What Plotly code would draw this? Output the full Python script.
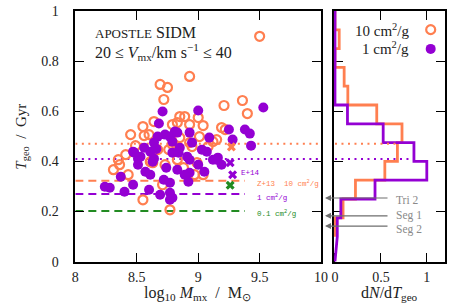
import numpy as np
import plotly.graph_objects as go

# ---------------- data ----------------
# 10 cm^2/g (open orange circles)
logM_10 = [9.50, 8.93, 8.69, 8.75, 8.72, 9.21, 9.36, 9.40, 8.55, 8.64, 8.45, 8.56,
           8.85, 8.89, 9.00, 9.04, 8.93, 8.79, 8.83, 9.19, 9.22, 9.15, 8.79, 8.93,
           9.01, 8.60, 8.84, 8.36, 8.35, 8.55, 8.77, 8.61, 8.95, 8.97, 9.04, 8.63,
           8.76, 8.85, 8.41, 8.49, 8.67, 8.73, 8.88, 8.99, 9.08, 9.12, 8.71, 8.43,
           8.31, 8.83]
T_10 = [0.899, 0.739, 0.707, 0.695, 0.647, 0.623, 0.643, 0.591, 0.539, 0.559, 0.507, 0.503,
        0.579, 0.579, 0.575, 0.543, 0.547, 0.547, 0.555, 0.535, 0.527, 0.487, 0.467, 0.475,
        0.499, 0.507, 0.455, 0.387, 0.407, 0.247, 0.207, 0.399, 0.459, 0.347, 0.347, 0.395,
        0.447, 0.495, 0.427, 0.463, 0.447, 0.387, 0.375, 0.395, 0.459, 0.479, 0.307, 0.347,
        0.367, 0.407]

# 1 cm^2/g (filled purple circles)
logM_1 = [9.53, 9.00, 8.71, 8.68, 8.93, 9.09, 9.25, 9.38, 9.42, 9.43, 9.28, 8.81,
          8.73, 8.67, 9.03, 9.07, 8.79, 8.91, 8.61, 9.16, 8.93, 8.92, 8.77, 8.79,
          8.69, 8.60, 8.63, 8.84, 9.05, 9.12, 8.93, 8.24, 8.28, 8.37, 8.40, 8.47,
          8.48, 8.53, 8.51, 8.57, 8.61, 8.77, 8.77, 8.72, 8.83, 8.79, 8.64, 8.77,
          8.83, 8.85, 8.47, 8.56, 8.64, 8.51, 8.95, 9.19, 9.15, 9.00, 8.74, 8.66,
          8.89]
T_1 = [0.615, 0.603, 0.599, 0.551, 0.515, 0.495, 0.527, 0.527, 0.511, 0.463, 0.487, 0.519,
       0.507, 0.499, 0.447, 0.439, 0.435, 0.419, 0.439, 0.415, 0.355, 0.319, 0.275, 0.255,
       0.267, 0.287, 0.399, 0.435, 0.359, 0.407, 0.407, 0.299, 0.295, 0.339, 0.279, 0.307,
       0.435, 0.419, 0.387, 0.359, 0.347, 0.247, 0.315, 0.327, 0.367, 0.479, 0.475, 0.499,
       0.515, 0.455, 0.439, 0.455, 0.411, 0.411, 0.475, 0.387, 0.407, 0.387, 0.375, 0.45,
       0.347]

# reference crosses (literature points)
cross_logM = [9.27, 9.26, 9.28, 9.26]
cross_T = [0.458, 0.395, 0.347, 0.305]
cross_col = ["#ff7f50", "#9400d3", "#9400d3", "#228b22"]

# median lines (dotted) and literature lines (dashed)
mean_T_10 = 0.47
mean_T_1 = 0.41
lit_T = [0.323, 0.27, 0.202]
lit_labels = ["Z+13  10 cm<sup>2</sup>/g", "1 cm<sup>2</sup>/g", "0.1 cm<sup>2</sup>/g"]
lit_col = ["#ff7f50", "#9400d3", "#228b22"]
lit_end = 9.38

# histogram (dN/dT_geo)
bin_edges = [0.1, 0.175, 0.25, 0.325, 0.4, 0.475, 0.55, 0.625, 0.7, 0.775, 0.85, 0.925, 1.0]
hist_10 = [0.0, 0.088, 0.223, 0.543, 0.68, 0.73, 0.455, 0.14, 0.10, 0.0, 0.046, 0.0]
hist_1 = [0.025, 0.064, 0.436, 1.0, 0.86, 0.525, 0.136, 0.0, 0.0, 0.0, 0.0, 0.0]

# observed dwarfs (arrows)
obs_T = [0.254, 0.183, 0.142]
obs_names = ["Tri 2", "Seg 1", "Seg 2"]

ORANGE = "#ff7f50"
PURPLE = "#9400d3"
GREEN = "#228b22"
GRAY = "#6e6e6e"
FONT = "Liberation Serif"
MONO = "Liberation Mono"
NB = "\u00a0"

W, H = 463, 305
fig = go.Figure()


def step(values, edges):
    xs, ys = [], []
    for i, v in enumerate(values):
        xs += [v, v]
        ys += [edges[i], edges[i + 1]]
    return xs, ys


# ---- main panel lines ----
fig.add_trace(go.Scatter(x=[8, 10], y=[mean_T_10] * 2, mode="lines",
                         line=dict(color=ORANGE, width=2, dash="2px,4.5px"),
                         showlegend=False, hoverinfo="skip"))
fig.add_trace(go.Scatter(x=[8, 10], y=[mean_T_1] * 2, mode="lines",
                         line=dict(color=PURPLE, width=2, dash="2px,4.5px"),
                         showlegend=False, hoverinfo="skip"))
for t, c in zip(lit_T, lit_col):
    fig.add_trace(go.Scatter(x=[8, lit_end], y=[t, t], mode="lines",
                             line=dict(color=c, width=2, dash="8px,5px"),
                             showlegend=False, hoverinfo="skip"))

fig.add_trace(go.Scatter(x=logM_10, y=T_10, mode="markers", name=" ",
                         marker=dict(symbol="circle-open", size=9, color=ORANGE,
                                     line=dict(width=2.2, color=ORANGE)),
                         showlegend=True))
fig.add_trace(go.Scatter(x=logM_1, y=T_1, mode="markers", name="  ",
                         marker=dict(symbol="circle", size=10, color=PURPLE),
                         showlegend=True))
fig.add_trace(go.Scatter(x=cross_logM, y=cross_T, mode="markers",
                         marker=dict(symbol="x", size=8, color=cross_col, line=dict(width=0)),
                         showlegend=False, hoverinfo="skip"))

# ---- right panel ----
xs, ys = step(hist_10, bin_edges)
fig.add_trace(go.Scatter(x=xs, y=ys, mode="lines", xaxis="x2", yaxis="y2",
                         line=dict(color=ORANGE, width=2.8), showlegend=False))
xs, ys = step(hist_1, bin_edges)
xs = [0] + xs + [0]
ys = [0] + ys + [1.0]
fig.add_trace(go.Scatter(x=xs, y=ys, mode="lines", xaxis="x2", yaxis="y2",
                         line=dict(color=PURPLE, width=2.8), showlegend=False))


def hist_at(t, hist):
    i = int(np.searchsorted(bin_edges, t) - 1)
    return hist[i]


fig.add_trace(go.Scatter(x=[0, hist_at(mean_T_10, hist_10)], y=[mean_T_10] * 2, mode="lines",
                         xaxis="x2", yaxis="y2",
                         line=dict(color=ORANGE, width=2, dash="2px,4.5px"), showlegend=False))
fig.add_trace(go.Scatter(x=[0, hist_at(mean_T_1, hist_1)], y=[mean_T_1] * 2, mode="lines",
                         xaxis="x2", yaxis="y2",
                         line=dict(color=PURPLE, width=2, dash="2px,4.5px"), showlegend=False))

# ---- annotations ----
ann = []
ann.append(dict(x=8.14, y=0.915, xref="x", yref="y", xanchor="left", yanchor="middle",
                text="<span style='font-size:13px'>APOSTLE</span> SIDM", showarrow=False,
                font=dict(family=FONT, size=16, color="#222")))
ann.append(dict(x=8.14, y=0.835, xref="x", yref="y", xanchor="left", yanchor="middle",
                text=f"20{NB}≤{NB}<i>V</i><sub>mx</sub>/km{NB}s<sup>−1</sup>{NB}≤{NB}40",
                showarrow=False, font=dict(family=FONT, size=16, color="#222")))
lab_y = [0.313, 0.258, 0.193]
for t, txt, c in zip(lab_y, lit_labels, lit_col):
    ann.append(dict(x=9.465, y=t, xref="x", yref="y", xanchor="left", yanchor="middle",
                    text=txt, showarrow=False, font=dict(family=MONO, size=7.5, color=c)))
ann.append(dict(x=9.335, y=0.352, xref="x", yref="y", xanchor="left", yanchor="middle",
                text="E+14", showarrow=False, font=dict(family=MONO, size=7.5, color=PURPLE)))

# legend texts
ann.append(dict(x=0.83, y=0.925, xref="x2", yref="y2", xanchor="right", yanchor="middle",
                text=f"10{NB}cm<sup>2</sup>/g", showarrow=False,
                font=dict(family=FONT, size=15, color="#222")))
ann.append(dict(x=0.83, y=0.853, xref="x2", yref="y2", xanchor="right", yanchor="middle",
                text=f"1{NB}cm<sup>2</sup>/g", showarrow=False,
                font=dict(family=FONT, size=15, color="#222")))

# arrows
head_x = 330 / W
for t, name, dy in zip(obs_T, obs_names, [-2, 0, -3]):
    ann.append(dict(x=head_x, y=t, xref="paper", yref="y2", ax=64, ay=0, text="",
                    showarrow=True, arrowhead=2, arrowsize=1, arrowwidth=1.2,
                    arrowcolor=GRAY, standoff=0, startstandoff=0))
    ann.append(dict(x=400 / W, y=t, xref="paper", yref="y2", xanchor="left",
                    yanchor="middle", yshift=dy, text=name, showarrow=False,
                    font=dict(family=FONT, size=11.5, color="#8a8a8a")))

# axis titles
ann.append(dict(x=22 / W, y=1 - 137 / H, xref="paper", yref="paper", textangle=-90,
                xanchor="center", yanchor="middle",
                text=f"<i>T</i><sub>geo</sub>{NB}{NB}/{NB}{NB}Gyr", showarrow=False,
                font=dict(family=FONT, size=15, color="#222")))
ann.append(dict(x=201 / W, y=1 - 293 / H, xref="paper", yref="paper",
                xanchor="center", yanchor="middle",
                text=f"log<sub>10</sub>{NB}<i>M</i><sub>mx</sub>{NB}{NB}/{NB}{NB}M<sub>⊙</sub>",
                showarrow=False, font=dict(family=FONT, size=16, color="#222")))
ann.append(dict(x=395 / W, y=1 - 293 / H, xref="paper", yref="paper",
                xanchor="center", yanchor="middle",
                text="d<i>N</i>/d<i>T</i><sub>geo</sub>", showarrow=False,
                font=dict(family=FONT, size=16, color="#222")))

axis_common = dict(showline=True, linecolor="black", linewidth=1.6, mirror="ticks",
                   ticks="inside", ticklen=9, tickwidth=1.4, tickcolor="black",
                   showgrid=False, zeroline=False, automargin=False,
                   tickfont=dict(family=FONT, size=14, color="#222"))

ydom = [1 - 261.7 / H, 1 - 11 / H]
fig.update_layout(
    template="none",
    width=W, height=H, margin=dict(l=0, r=0, t=0, b=0, pad=0),
    paper_bgcolor="white", plot_bgcolor="white",
    xaxis=dict(domain=[76.5 / W, 326 / W], range=[8, 10], tickvals=[8, 8.5, 9, 9.5, 10],
               ticktext=["8", "8.5", "9", "9.5", "10"], anchor="y", ticklabelstandoff=2,
               **axis_common),
    yaxis=dict(domain=ydom, range=[0, 1], tickvals=[0, 0.2, 0.4, 0.6, 0.8, 1],
               ticktext=["0", "0.2", "0.4", "0.6", "0.8", "1"], anchor="x",
               ticklabelstandoff=12, **axis_common),
    xaxis2=dict(domain=[339 / W, 452 / W], range=[-0.012, 1.2], tickvals=[0, 0.5, 1],
                ticktext=["0", "0.5", "1"], anchor="y2", ticklabelstandoff=2,
                layer="below traces", **axis_common),
    yaxis2=dict(domain=ydom, range=[0, 1], tickvals=[0, 0.2, 0.4, 0.6, 0.8, 1],
                showticklabels=False, anchor="x2", layer="below traces", **axis_common),
    annotations=ann,
    showlegend=True,
    legend=dict(x=417 / W, y=1 - 15 / H, xanchor="left", yanchor="top",
                bgcolor="rgba(0,0,0,0)", font=dict(family=FONT, size=12.5),
                tracegroupgap=0, itemwidth=30, borderwidth=0),
    font=dict(family=FONT),
)

fig.write_html("out.html", config={"displayModeBar": False},
               post_script="document.body.style.margin='0px';document.body.style.padding='0px';")
